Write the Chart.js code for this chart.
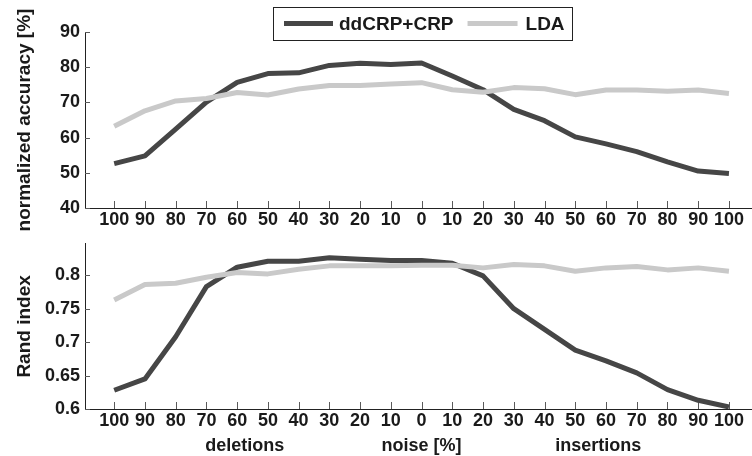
<!DOCTYPE html>
<html><head><meta charset="utf-8">
<script src="https://cdn.jsdelivr.net/npm/chart.js@4"></script>
<style>
html,body{margin:0;padding:0;background:#fff;overflow:hidden}
#wrap{position:relative;width:752px;height:456px}
canvas{position:absolute;left:0}
</style></head><body>
<div id="wrap">
<canvas id="c2" width="752" height="228" style="top:228px"></canvas>
<canvas id="c1" width="752" height="238" style="top:0"></canvas>
</div>
<script>
const xLabels = ['100','90','80','70','60','50','40','30','20','10','0','10','20','30','40','50','60','70','80','90','100'];
const seriesNames = ['ddCRP+CRP','LDA'];
const accDdcrp = [52.6,54.8,62.4,70.1,75.7,78.2,78.4,80.5,81.1,80.8,81.2,77.5,73.6,68.0,64.8,60.2,58.2,56.0,53.1,50.5,49.8];
const accLda   = [63.2,67.6,70.4,71.1,72.8,72.1,73.8,74.8,74.8,75.2,75.6,73.6,72.9,74.2,73.9,72.2,73.5,73.5,73.2,73.5,72.5];
const randDdcrp = [0.628,0.645,0.708,0.783,0.812,0.821,0.821,0.826,0.824,0.822,0.822,0.818,0.799,0.750,0.719,0.688,0.672,0.654,0.629,0.613,0.603];
const randLda   = [0.763,0.786,0.788,0.797,0.804,0.802,0.809,0.814,0.814,0.814,0.815,0.815,0.811,0.816,0.814,0.806,0.811,0.813,0.808,0.811,0.806];
const accTicks = [40,50,60,70,80,90];
const accTickLabels = ['40','50','60','70','80','90'];
const randTicks = [0.6,0.65,0.7,0.75,0.8];
const randTickLabels = ['0.6','0.65','0.7','0.75','0.8'];
const groupLabels = ['deletions','noise [%]','insertions'];
const groupPositions = [4.25,10,15.75];

const FAM = '"Liberation Sans", Arial, Helvetica, sans-serif';
const TXT = '#1a1a1a';
const DARK = '#464646';
const LIGHT = '#c9c9c9';

function pts(arr){ return arr.map((v,i)=>({x:i,y:v})); }

const inwardTicks = {
  id:'inwardTicks',
  beforeDatasetsDraw(chart){
    const {ctx, chartArea:a, scales:{x,y}} = chart;
    ctx.save(); ctx.strokeStyle='#5a5a5a'; ctx.lineWidth=1; ctx.beginPath();
    x.ticks.forEach(t=>{const px=Math.round(x.getPixelForValue(t.value))+0.5; ctx.moveTo(px,a.bottom); ctx.lineTo(px,a.bottom-7);});
    y.ticks.forEach(t=>{const py=Math.round(y.getPixelForValue(t.value))+0.5; ctx.moveTo(a.left,py); ctx.lineTo(a.left+5,py);});
    ctx.stroke(); ctx.restore();
  }
};

const boxLegend = {
  id:'boxLegend',
  afterDraw(chart){
    const {ctx, chartArea:a} = chart;
    ctx.save();
    ctx.font = 'bold 19px '+FAM;
    const w1 = ctx.measureText(seriesNames[0]).width;
    const w2 = ctx.measureText(seriesNames[1]).width;
    const total = 11+49+6+w1+14+50+8+w2+7;
    const left = Math.round((a.left+a.right)/2 - total/2 + 4);
    const top = 7, h = 33, cy = top + h/2;
    ctx.fillStyle='#fff'; ctx.fillRect(left,top,total,h);
    ctx.strokeStyle='#222'; ctx.lineWidth=1; ctx.strokeRect(left+0.5,top+0.5,Math.round(total),h);
    let x = left+11;
    ctx.lineWidth=5; ctx.strokeStyle=DARK; ctx.beginPath(); ctx.moveTo(x,cy); ctx.lineTo(x+49,cy); ctx.stroke();
    x += 49+6;
    ctx.fillStyle=TXT; ctx.textBaseline='middle'; ctx.textAlign='left';
    ctx.fillText(seriesNames[0], x, cy+1);
    x += w1+14;
    ctx.strokeStyle=LIGHT; ctx.beginPath(); ctx.moveTo(x,cy); ctx.lineTo(x+50,cy); ctx.stroke();
    x += 50+8;
    ctx.fillText(seriesNames[1], x, cy+1);
    ctx.restore();
  }
};

const groupText = {
  id:'groupText',
  afterDraw(chart){
    const {ctx, scales:{x}} = chart;
    ctx.save();
    ctx.font='bold 18px '+FAM; ctx.fillStyle=TXT; ctx.textAlign='center'; ctx.textBaseline='middle';
    groupLabels.forEach((t,i)=>ctx.fillText(t, x.getPixelForValue(groupPositions[i]), chart.height-10));
    ctx.restore();
  }
};

function makeChart(id, d1, d2, yMin, yMax, yTicks, yTickLabels, yTitle, padTop, xHeight, extra){
  return new Chart(document.getElementById(id), {
    type:'line',
    data:{datasets:[
      {label:seriesNames[0], data:pts(d1), borderColor:DARK, borderWidth:5, pointRadius:0, tension:0, order:1, borderJoinStyle:'round'},
      {label:seriesNames[1], data:pts(d2), borderColor:LIGHT, borderWidth:5, pointRadius:0, tension:0, order:0, borderJoinStyle:'round'}
    ]},
    options:{
      responsive:false, animation:false, devicePixelRatio:1,
      layout:{padding:{top:padTop,left:0,right:0,bottom:0}},
      plugins:{legend:{display:false}, tooltip:{enabled:false}},
      scales:{
        x:{type:'linear', min:-0.95, max:20.75,
          grid:{display:false, drawTicks:false},
          border:{display:true, color:'#222', width:1},
          afterBuildTicks:s=>{ s.ticks = xLabels.map((_,i)=>({value:i})); },
          ticks:{autoSkip:false, maxRotation:0, minRotation:0, padding:1, color:TXT, font:{family:FAM, size:18, weight:'bold'}, callback:(v)=>xLabels[v]},
          afterFit:s=>{ s.height = xHeight; }
        },
        y:{min:yMin, max:yMax,
          grid:{display:false, drawTicks:false},
          border:{display:true, color:'#222', width:1},
          afterBuildTicks:s=>{ s.ticks = yTicks.map(v=>({value:v})); },
          ticks:{padding:5, color:TXT, font:{family:FAM, size:18, weight:'bold'}, callback:(v)=>{const i=yTicks.indexOf(v); return i>=0?yTickLabels[i]:'';}},
          title:{display:true, text:yTitle, color:TXT, font:{family:FAM, size:19, weight:'bold'}, padding:{top:13,bottom:0}},
          afterFit:s=>{ s.width = 85; }
        }
      }
    },
    plugins:[inwardTicks].concat(extra)
  });
}

makeChart('c1', accDdcrp, accLda, 40, 90, accTicks, accTickLabels, 'normalized accuracy [%]', 32, 30, [boxLegend]);
makeChart('c2', randDdcrp, randLda, 0.6, 0.847, randTicks, randTickLabels, 'Rand index', 7, 47, [groupText]);
</script>
</body></html>
